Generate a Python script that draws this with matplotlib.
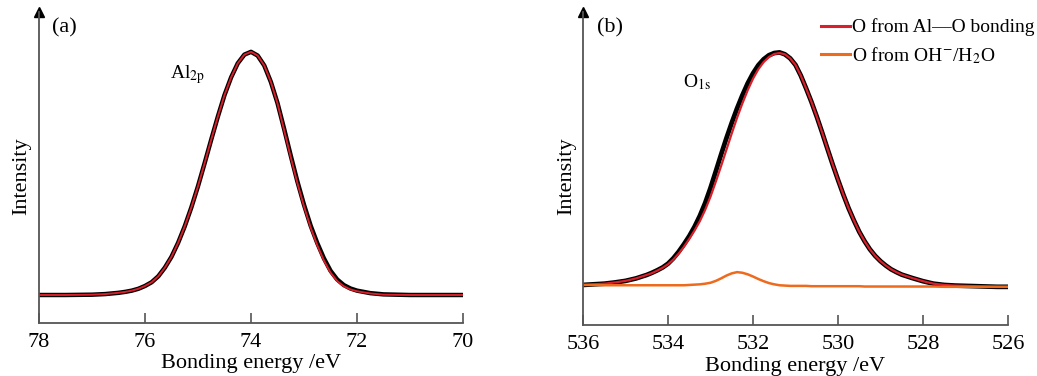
import matplotlib
matplotlib.use("Agg")
from matplotlib import pyplot as plt
from matplotlib.lines import Line2D

plt.rcParams['font.family'] = ['Liberation Serif', 'DejaVu Serif']
plt.rcParams['mathtext.fontset'] = 'stix'

# (a) Al 2p spectrum: measured data and fitted curve
al_energy = [78.0, 77.5, 77.0, 76.75,
             76.5, 76.375, 76.25, 76.125, 76.0, 75.875, 75.75, 75.625, 75.5, 75.375,
             75.25, 75.125, 75.0, 74.875, 74.75, 74.625, 74.5, 74.375, 74.25, 74.125,
             74.0, 73.875, 73.75, 73.625, 73.5, 73.375, 73.25, 73.125, 73.0, 72.875,
             72.75, 72.625, 72.5, 72.375, 72.25, 72.125, 72.0,
             71.75, 71.5, 71.0, 70.5, 70.0]
al_data = [0.090, 0.090, 0.091, 0.093,
           0.097, 0.100, 0.104, 0.110, 0.119, 0.131, 0.150, 0.178, 0.213, 0.258,
           0.311, 0.372, 0.440, 0.514, 0.590, 0.664, 0.733, 0.790, 0.835, 0.863,
           0.872, 0.860, 0.828, 0.775, 0.707, 0.624, 0.538, 0.455, 0.380, 0.313,
           0.257, 0.208, 0.168, 0.140, 0.122, 0.111, 0.104,
           0.096, 0.092, 0.090, 0.090, 0.090]
al_fit = [0.090, 0.090, 0.091, 0.093,
          0.097, 0.100, 0.104, 0.110, 0.119, 0.131, 0.150, 0.178, 0.213, 0.258,
          0.311, 0.372, 0.440, 0.514, 0.590, 0.664, 0.733, 0.790, 0.835, 0.863,
          0.872, 0.860, 0.828, 0.775, 0.706, 0.620, 0.533, 0.450, 0.375, 0.307,
          0.250, 0.201, 0.162, 0.135, 0.118, 0.108, 0.102,
          0.095, 0.091, 0.090, 0.090, 0.090]

# (b) O 1s spectrum: measured data, Al-O component, OH-/H2O component
o_energy = [536.0, 535.75, 535.5, 535.25, 535.0, 534.75,
            534.5, 534.375, 534.25, 534.125, 534.0, 533.875, 533.75, 533.625, 533.5,
            533.375, 533.25, 533.125, 533.0, 532.875, 532.75, 532.625, 532.5, 532.375,
            532.25, 532.125, 532.0, 531.875, 531.75, 531.625, 531.5, 531.375, 531.25,
            531.125, 531.0, 530.875, 530.75, 530.625, 530.5, 530.375, 530.25, 530.125,
            530.0, 529.875, 529.75, 529.625, 529.5, 529.375, 529.25, 529.125, 529.0,
            528.875, 528.75, 528.625, 528.5,
            528.25, 528.0, 527.75, 527.5, 527.25, 527.0, 526.75, 526.5, 526.25, 526.0]
o_data = [0.128, 0.130, 0.132, 0.136, 0.141, 0.149,
          0.160, 0.167, 0.175, 0.184, 0.196, 0.213, 0.234, 0.258, 0.284,
          0.314, 0.349, 0.390, 0.438, 0.491, 0.545, 0.597, 0.646, 0.692,
          0.734, 0.772, 0.804, 0.830, 0.849, 0.862, 0.869, 0.871, 0.865,
          0.852, 0.831, 0.797, 0.756, 0.713, 0.666, 0.616, 0.564, 0.513,
          0.464, 0.417, 0.373, 0.334, 0.298, 0.268, 0.242, 0.221, 0.204,
          0.190, 0.178, 0.169, 0.161,
          0.150, 0.140, 0.132, 0.128, 0.126, 0.125, 0.124, 0.123, 0.122, 0.122]
o_alo = [0.128, 0.130, 0.132, 0.136, 0.141, 0.149,
         0.160, 0.166, 0.174, 0.183, 0.194, 0.209, 0.228, 0.250, 0.275,
         0.302, 0.332, 0.368, 0.410, 0.458, 0.508, 0.560, 0.612, 0.662,
         0.708, 0.750, 0.787, 0.817, 0.840, 0.856, 0.866, 0.869, 0.865,
         0.852, 0.831, 0.797, 0.756, 0.713, 0.666, 0.616, 0.564, 0.513,
         0.464, 0.417, 0.373, 0.334, 0.298, 0.268, 0.242, 0.221, 0.204,
         0.190, 0.178, 0.169, 0.161,
         0.150, 0.140, 0.132, 0.128, 0.126, 0.125, 0.124, 0.123, 0.122, 0.122]
o_oh = [0.128, 0.128, 0.127, 0.127, 0.127, 0.127,
        0.127, 0.127, 0.127, 0.127, 0.127, 0.127, 0.127, 0.127, 0.128,
        0.129, 0.130, 0.132, 0.135, 0.141, 0.149, 0.158, 0.165, 0.169,
        0.167, 0.162, 0.155, 0.147, 0.140, 0.134, 0.130, 0.127, 0.126,
        0.125, 0.125, 0.125, 0.125, 0.124, 0.124, 0.124, 0.124, 0.124,
        0.124, 0.124, 0.124, 0.124, 0.124, 0.123, 0.123, 0.123, 0.123,
        0.123, 0.123, 0.123, 0.123,
        0.123, 0.123, 0.123, 0.122, 0.122, 0.122, 0.122, 0.122, 0.122, 0.122]

red = '#d81f2a'
orange = '#ee6a1c'
axis_col = '#555555'

fig = plt.figure(figsize=(10.37, 3.76), dpi=100)
ax1 = fig.add_axes([0.0376, 0.141, 0.4089, 0.827])
ax2 = fig.add_axes([0.5622, 0.1356, 0.4098, 0.8324])

ax1.plot(al_energy, al_data, color='black', lw=3.2, solid_joinstyle='round')
ax1.plot(al_energy, al_fit, color=red, lw=1.4, solid_joinstyle='round')
ax1.set_xlim(78, 70)
ax1.set_xticks([78, 76, 74, 72, 70])

ax2.plot(o_energy, o_data, color='black', lw=3.4, solid_joinstyle='round')
ax2.plot(o_energy, o_alo, color=red, lw=1.6, solid_joinstyle='round')
ax2.plot(o_energy, o_oh, color=orange, lw=1.8, solid_joinstyle='round')
ax2.set_xlim(536, 526)
ax2.set_xticks([536, 534, 532, 530, 528, 526])

for ax in [ax1, ax2]:
    ax.set_ylim(0, 1)
    ax.set_yticks([])
    ax.spines['top'].set_visible(False)
    ax.spines['right'].set_visible(False)
    for s in ['left', 'bottom']:
        ax.spines[s].set_color(axis_col)
        ax.spines[s].set_linewidth(1.3)
    ax.tick_params(axis='x', direction='in', length=7, width=1.2, color=axis_col,
                   labelsize=16, pad=7)
    ax.set_xlabel('Bonding energy /eV', fontsize=16, labelpad=2)
    ax.set_ylabel('Intensity', fontsize=16)
    ax.plot(0, 1.0, marker='^', color='black', ms=7, transform=ax.transAxes, clip_on=False)

ax1.yaxis.set_label_coords(-0.018, 0.473)
ax2.yaxis.set_label_coords(-0.017, 0.476)

ax1.text(0.03, 0.95, '(a)', transform=ax1.transAxes, fontsize=16, va='center')
ax1.text(0.31, 0.80, r'Al$_{\rm 2p}$', transform=ax1.transAxes, fontsize=14, va='center')
ax2.text(0.033, 0.95, '(b)', transform=ax2.transAxes, fontsize=16, va='center')
ax2.text(0.235, 0.775, r'O$_{\rm 1s}$', transform=ax2.transAxes, fontsize=14, va='center')

handles = [Line2D([], [], color=red, lw=2.2), Line2D([], [], color=orange, lw=2.2)]
ax2.legend(handles, ['O from Al\u2014O bonding', r'O from OH$^{-}$/H$_2$O'],
           loc='upper right', bbox_to_anchor=(1.103, 1.035), frameon=False,
           fontsize=14, handlelength=1.5, handletextpad=0.1, labelspacing=0.45)

fig.savefig('out.png', dpi=100)
